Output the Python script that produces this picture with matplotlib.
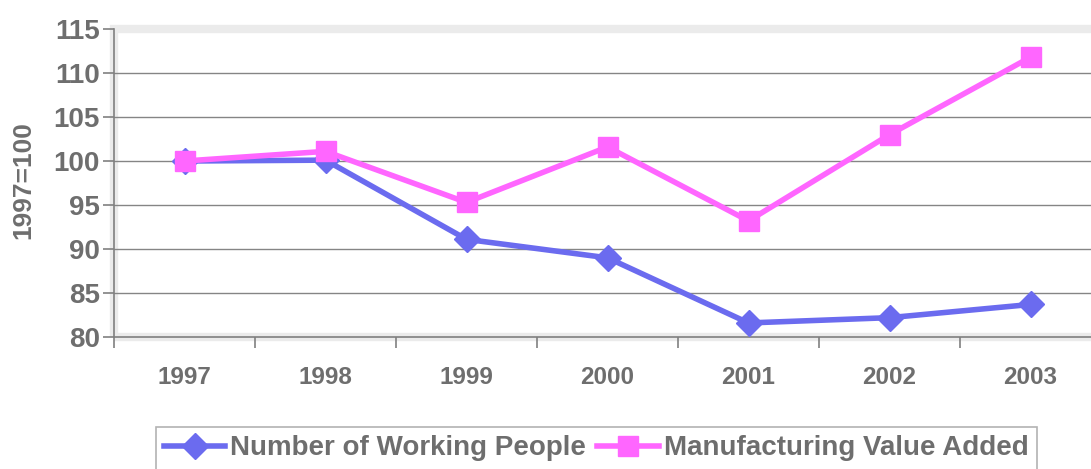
import numpy as np
import matplotlib.pyplot as plt
from matplotlib.patches import Rectangle

# -------------------------
# Data
# -------------------------
years = ["1997", "1998", "1999", "2000", "2001", "2002", "2003"]
working_people = [100.0, 100.1, 91.1, 89.0, 81.6, 82.2, 83.7]
value_added = [100.0, 101.1, 95.3, 101.6, 93.2, 103.0, 111.8]

y_ticks = [80, 85, 90, 95, 100, 105, 110, 115]

TEXT_GRAY = "#6e6e6e"
BLUE = "#6b6bef"
PINK = "#ff66ff"

plt.rcParams["font.family"] = ["Liberation Sans", "DejaVu Sans"]
plt.rcParams["font.weight"] = "bold"

fig = plt.figure(figsize=(10.91, 4.69), dpi=100)
ax = fig.add_axes([0.1045, 0.2814, 0.9047, 0.6567])

x = np.arange(len(years))

# light gray "3d wall" band around the plot area
for s in ax.spines.values():
    s.set_visible(False)
band = Rectangle((-0.5, 80), 7, 35, fill=False, edgecolor="#ebebeb",
                 linewidth=6, transform=ax.transData, clip_on=False, zorder=0)
ax.add_patch(band)

# gridlines
for v in y_ticks[1:-1]:
    ax.axhline(v, color="#858585", linewidth=1.0, zorder=1)

ax.plot(x, working_people, color=BLUE, linewidth=4, marker="D",
        markersize=13, markerfacecolor=BLUE, markeredgecolor=BLUE,
        label="Number of Working People", zorder=3, clip_on=False)
ax.plot(x, value_added, color=PINK, linewidth=4, marker="s",
        markersize=15, markerfacecolor=PINK, markeredgecolor=PINK,
        label="Manufacturing Value Added", zorder=4, clip_on=False)

ax.set_xlim(-0.5, 6.5)
ax.set_ylim(80, 115)

# axis lines
ax.plot([-0.5, -0.5], [80, 115], color="#808080", linewidth=1.2,
        clip_on=False, zorder=2)
ax.plot([-0.5, 6.5], [80, 80], color="#808080", linewidth=1.2,
        clip_on=False, zorder=2)

ax.set_yticks(y_ticks)
ax.set_yticklabels([str(v) for v in y_ticks], fontsize=20, color=TEXT_GRAY,
                   fontweight="bold")
ax.tick_params(axis="y", length=8, width=1.2, color="#808080", pad=2)

ax.set_xticks(x)
ax.set_xticklabels(years, fontsize=17.5, color=TEXT_GRAY, fontweight="bold")
ax.tick_params(axis="x", length=0, pad=21)
ax.set_xticks(np.arange(-0.5, 7, 1), minor=True)
ax.tick_params(axis="x", which="minor", length=8, width=1.2, color="#808080")

ax.set_ylabel("1997=100", fontsize=19, color=TEXT_GRAY, fontweight="bold")
ax.yaxis.set_label_coords(-0.080, 0.51)

leg = fig.legend(loc="upper left", bbox_to_anchor=(156 / 1091, 1 - 427 / 469),
                 ncol=2, frameon=True, fancybox=False, fontsize=20,
                 handlelength=2.2, handletextpad=0.18, columnspacing=0.4,
                 borderpad=0.3, borderaxespad=0)
leg.get_frame().set_edgecolor("#a0a0a0")
leg.get_frame().set_linewidth(1.2)
for t in leg.get_texts():
    t.set_color(TEXT_GRAY)
    t.set_fontweight("bold")

fig.savefig("out.png", dpi=100)
